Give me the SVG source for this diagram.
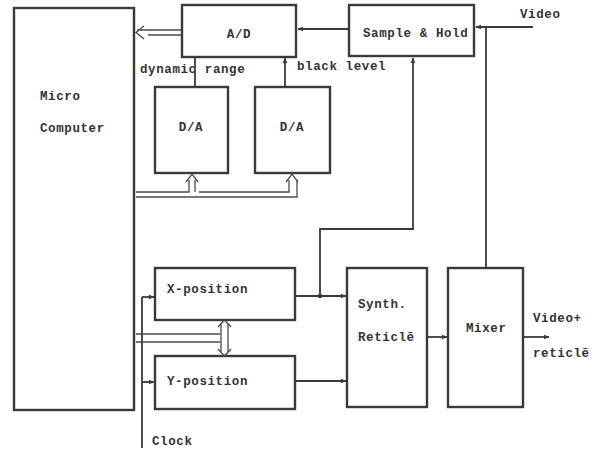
<svg xmlns="http://www.w3.org/2000/svg" width="594" height="453" viewBox="0 0 594 453">
<defs>
<marker id="ah" viewBox="0 0 10 10" refX="9" refY="5" markerWidth="6" markerHeight="6" orient="auto-start-reverse" markerUnits="userSpaceOnUse">
<path d="M0,1 L10,5 L0,9 z" fill="#3a3a3a"/>
</marker>
<style>
.box{fill:none;stroke:#3a3a3a;stroke-width:2.4}
.ln{fill:none;stroke:#3a3a3a;stroke-width:1.8}
.thin{fill:none;stroke:#4a4a4a;stroke-width:1.3}
.t{font-family:"Liberation Mono",monospace;font-weight:bold;font-size:12.5px;letter-spacing:0.6px;fill:#333}
</style>
</defs>
<rect width="594" height="453" fill="#fff"/>
<g id="micro"><rect class="box" x="14" y="8" width="120" height="402"/><text class="t" x="40" y="100">Micro</text><text class="t" x="40" y="132">Computer</text></g>
<g id="ad"><rect class="box" x="182" y="5" width="114" height="52"/><text class="t" x="239" y="38" text-anchor="middle">A/D</text></g>
<g id="sh"><rect class="box" x="349" y="5" width="125" height="51"/><text class="t" x="363" y="37">Sample &amp; Hold</text></g>
<g id="da1"><rect class="box" x="155" y="87" width="73" height="86"/><text class="t" x="191" y="131" text-anchor="middle">D/A</text></g>
<g id="da2"><rect class="box" x="255" y="87" width="75" height="86"/><text class="t" x="292" y="131" text-anchor="middle">D/A</text></g>
<g id="xpos"><rect class="box" x="155" y="268" width="140" height="52"/><text class="t" x="167" y="293">X-position</text></g>
<g id="ypos"><rect class="box" x="155" y="356" width="140" height="53"/><text class="t" x="167" y="385">Y-position</text></g>
<g id="synth"><rect class="box" x="347" y="268" width="80" height="139"/><text class="t" x="358" y="308">Synth.</text><text class="t" x="358" y="341">Reticlē</text></g>
<g id="mixer"><rect class="box" x="448" y="268" width="75" height="139"/><text class="t" x="466" y="332">Mixer</text></g>
<g id="labels">
<text class="t" x="520" y="18">Video</text>
<text class="t" x="140" y="73" letter-spacing="1.8">dynamic range</text>
<text class="t" x="297" y="70">black level</text>
<text class="t" x="152" y="445">Clock</text>
<text class="t" x="533" y="322">Video+</text>
<text class="t" x="533" y="357">reticlē</text>
</g>
<g id="connectors">
<path class="ln" d="M533,27 H476" marker-end="url(#ah)"/>
<path class="ln" d="M486,27 V268"/>
<path class="ln" d="M349,29 H298" marker-end="url(#ah)"/>
<path class="thin" d="M182,30 H137 M182,35 H148 M144,26 L136,32.5 L144,39"/>
<path class="ln" d="M195,87 V58"/>
<path class="ln" d="M285,87 V58" marker-end="url(#ah)"/>
<path class="ln" d="M320,296 V229 H413 V58" marker-end="url(#ah)"/>
<circle cx="320" cy="296" r="2.2" fill="#3a3a3a"/>
<path class="ln" d="M295,296 H346" marker-end="url(#ah)"/>
<path class="ln" d="M295,381 H346" marker-end="url(#ah)"/>
<path class="ln" d="M427,337 H447" marker-end="url(#ah)"/>
<path class="ln" d="M523,337 H549" marker-end="url(#ah)"/>
<path class="ln" d="M142,297 V448"/>
<path class="ln" d="M142,297 H154" marker-end="url(#ah)"/>
<path class="ln" d="M142,382 H154" marker-end="url(#ah)"/>
<path class="thin" d="M136,192 H189 V180 M199,192 H289 V180 M136,197 H297 V180 M195,192 V180"/>
<path class="thin" d="M186,182 L192,174 L198,182 M286,182 L292,174 L298,182"/>
<path class="thin" d="M136,334 H220 M136,342 H220 M221,324 V352 M228,324 V352"/>
<path class="thin" d="M218,327 L224.5,320 L231,327 M218,349 L224.5,356 L231,349"/>
</g>
</svg>
